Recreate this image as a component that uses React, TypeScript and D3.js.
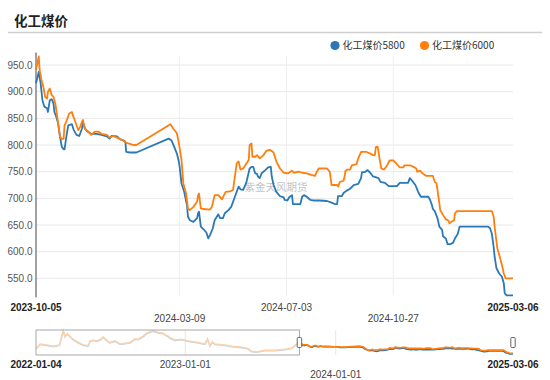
import React from 'react';
import * as d3 from 'd3';

const TITLE = '化工煤价';
const SERIES_NAMES = ['化工煤价5800', '化工煤价6000'];
const COLORS = ['#2a79b6', '#ff7f0e'];
const FADED = ['#bcd6ec', '#fcd2aa'];
const WATERMARK = '紫金天风期货';

const dates5800 = ['2023-10-05','2023-10-08','2023-10-10','2023-10-12','2023-10-14','2023-10-17','2023-10-18','2023-10-20','2023-10-22','2023-10-24','2023-10-25','2023-10-27','2023-10-29','2023-10-31','2023-11-02','2023-11-04','2023-11-05','2023-11-07','2023-11-09','2023-11-13','2023-11-15','2023-11-18','2023-11-21','2023-11-24','2023-11-25','2023-11-27','2023-11-30','2023-12-04','2023-12-10','2023-12-15','2023-12-21','2023-12-24','2023-12-26','2024-01-01','2024-01-04','2024-01-09','2024-01-10','2024-01-11','2024-01-15','2024-01-22','2024-02-26','2024-02-29','2024-03-03','2024-03-06','2024-03-08','2024-03-09','2024-03-11','2024-03-14','2024-03-17','2024-03-18','2024-03-20','2024-03-24','2024-03-28','2024-03-29','2024-03-30','2024-04-01','2024-04-04','2024-04-07','2024-04-09','2024-04-11','2024-04-14','2024-04-16','2024-04-20','2024-04-22','2024-04-25','2024-04-27','2024-05-01','2024-05-04','2024-05-08','2024-05-12','2024-05-14','2024-05-17','2024-05-20','2024-05-21','2024-05-24','2024-05-26','2024-05-28','2024-05-30','2024-06-01','2024-06-02','2024-06-04','2024-06-06','2024-06-10','2024-06-13','2024-06-16','2024-06-17','2024-06-19','2024-06-22','2024-06-26','2024-06-30','2024-07-01','2024-07-04','2024-07-06','2024-07-09','2024-07-10','2024-07-18','2024-07-20','2024-07-22','2024-07-25','2024-07-29','2024-08-01','2024-08-08','2024-08-16','2024-08-21','2024-08-25','2024-08-27','2024-08-28','2024-09-01','2024-09-03','2024-09-06','2024-09-10','2024-09-14','2024-09-19','2024-09-22','2024-09-23','2024-09-26','2024-09-29','2024-10-02','2024-10-05','2024-10-11','2024-10-13','2024-10-18','2024-10-22','2024-10-31','2024-11-03','2024-11-12','2024-11-14','2024-11-16','2024-11-20','2024-11-23','2024-11-26','2024-12-04','2024-12-06','2024-12-08','2024-12-09','2024-12-11','2024-12-14','2024-12-16','2024-12-19','2024-12-20','2024-12-23','2024-12-25','2024-12-28','2024-12-31','2025-01-02','2025-01-05','2025-01-07','2025-02-07','2025-02-09','2025-02-11','2025-02-13','2025-02-14','2025-02-16','2025-02-19','2025-02-22','2025-02-24','2025-02-25','2025-02-27','2025-03-06'];
const values5800 = [916,937,916,884,872,869,862,884,886,878,862,853,841,816,797,792,792,816,837,839,828,819,817,831,844,831,825,821,821,819,816,812,817,816,811,808,806,787,786,786,812,809,797,784,770,759,728,712,687,666,659,656,663,672,675,647,642,636,625,631,644,659,670,663,663,672,678,684,703,722,717,716,728,734,756,759,759,747,746,741,738,747,753,758,759,741,725,712,704,702,697,696,702,706,689,689,703,706,703,697,696,696,695,692,689,689,704,704,710,714,718,725,727,738,749,749,753,748,741,738,731,729,723,723,729,729,738,734,725,712,703,703,697,687,680,676,663,647,641,629,625,614,614,617,625,633,647,647,644,634,609,591,569,559,553,541,522,518,518];

const dates6000 = ['2023-10-05','2023-10-08','2023-10-09','2023-10-11','2023-10-13','2023-10-15','2023-10-17','2023-10-18','2023-10-20','2023-10-22','2023-10-24','2023-10-26','2023-10-27','2023-10-29','2023-10-31','2023-11-02','2023-11-04','2023-11-05','2023-11-07','2023-11-10','2023-11-13','2023-11-14','2023-11-16','2023-11-18','2023-11-20','2023-11-22','2023-11-24','2023-11-25','2023-11-26','2023-11-28','2023-12-01','2023-12-04','2023-12-08','2023-12-12','2023-12-15','2023-12-21','2023-12-24','2023-12-28','2024-01-01','2024-01-04','2024-01-08','2024-01-11','2024-01-15','2024-01-19','2024-01-22','2024-02-28','2024-03-02','2024-03-06','2024-03-08','2024-03-11','2024-03-13','2024-03-16','2024-03-18','2024-03-20','2024-03-24','2024-03-28','2024-03-29','2024-03-30','2024-04-01','2024-04-04','2024-04-11','2024-04-13','2024-04-16','2024-04-20','2024-04-24','2024-04-25','2024-04-28','2024-05-03','2024-05-06','2024-05-08','2024-05-10','2024-05-12','2024-05-14','2024-05-17','2024-05-20','2024-05-23','2024-05-24','2024-05-26','2024-05-27','2024-05-30','2024-06-01','2024-06-04','2024-06-08','2024-06-11','2024-06-15','2024-06-19','2024-06-22','2024-06-26','2024-06-30','2024-07-05','2024-07-09','2024-07-11','2024-07-16','2024-07-20','2024-07-25','2024-07-30','2024-08-03','2024-08-05','2024-08-07','2024-08-16','2024-08-19','2024-08-21','2024-08-27','2024-08-28','2024-08-30','2024-09-03','2024-09-04','2024-09-05','2024-09-07','2024-09-10','2024-09-12','2024-09-17','2024-09-19','2024-09-22','2024-09-28','2024-10-02','2024-10-05','2024-10-07','2024-10-08','2024-10-10','2024-10-12','2024-10-14','2024-10-17','2024-10-20','2024-10-23','2024-10-27','2024-10-31','2024-11-03','2024-11-07','2024-11-08','2024-11-14','2024-11-18','2024-11-21','2024-11-22','2024-11-25','2024-11-27','2024-11-30','2024-12-02','2024-12-09','2024-12-11','2024-12-13','2024-12-15','2024-12-17','2024-12-19','2024-12-20','2024-12-23','2024-12-26','2024-12-27','2024-12-29','2025-01-01','2025-01-02','2025-01-04','2025-02-11','2025-02-13','2025-02-14','2025-02-17','2025-02-19','2025-02-22','2025-02-24','2025-02-26','2025-03-06'];
const values6000 = [941,966,940,922,909,890,887,900,906,894,890,878,866,841,816,811,812,837,844,859,862,856,847,837,828,834,844,847,837,829,825,819,825,825,821,819,814,817,814,811,808,804,802,800,800,839,831,822,805,772,728,709,681,678,684,694,706,709,681,680,679,684,706,706,698,702,712,713,716,741,766,769,754,756,764,772,800,803,778,778,781,775,781,789,791,786,769,756,748,747,752,748,750,748,747,744,742,750,756,756,750,725,725,722,731,733,740,751,754,754,762,764,775,787,787,784,781,781,796,797,775,756,754,761,771,771,764,758,758,762,762,759,756,750,752,748,744,742,742,731,728,703,678,672,669,661,658,653,656,659,672,676,676,666,647,606,594,575,559,550,550];

const histDates = ['2022-01-04','2022-01-14','2022-01-30','2022-02-15','2022-03-02','2022-03-11','2022-03-15','2022-03-21','2022-03-27','2022-04-04','2022-04-17','2022-04-29','2022-05-11','2022-05-15','2022-05-23','2022-05-31','2022-06-10','2022-06-16','2022-06-24','2022-07-02','2022-07-15','2022-07-27','2022-08-12','2022-08-20','2022-09-01','2022-09-09','2022-09-21','2022-09-29','2022-10-15','2022-10-28','2022-11-09','2022-11-13','2022-11-21','2022-11-25','2022-12-07','2022-12-23','2023-01-09','2023-02-02','2023-02-18','2023-02-24','2023-03-02','2023-03-08','2023-03-14','2023-04-07','2023-04-24','2023-05-18','2023-06-03','2023-06-11','2023-06-23','2023-07-13','2023-08-07','2023-08-31','2023-09-16','2023-09-28'];
const hist5800 = [720,905,865,815,865,1440,1215,1320,1220,1095,965,865,840,1030,1065,1030,1095,1190,1065,965,1030,905,940,965,1115,1095,1215,1340,1445,1370,1345,1285,1220,1155,1070,1095,1030,965,905,1115,840,990,905,865,815,775,715,610,585,650,650,690,735,900];
const hist6000 = [737,929,890,837,890,1478,1248,1351,1248,1121,990,890,864,1056,1094,1056,1121,1221,1094,990,1056,929,967,990,1144,1121,1248,1374,1478,1401,1374,1313,1248,1182,1094,1121,1056,990,929,1144,864,1017,929,890,837,798,737,633,606,672,672,710,760,929];

const xTickDates = ['2023-10-05', '2024-03-09', '2024-07-03', '2024-10-27', '2025-03-06'];
const xTickRows = [0, 1, 0, 1, 0];
const yTicks = [550, 600, 650, 700, 750, 800, 850, 900, 950];
const sliderTickDates = ['2022-01-04', '2023-01-01', '2024-01-01', '2025-03-06'];
const sliderTickRows = [0, 0, 1, 0];

type Pt = { date: Date; value: number };

export default function App() {
  const W = 550;
  const H = 380;
  const parse = d3.timeParse('%Y-%m-%d');
  const toPts = (ds: string[], vs: number[]): Pt[] => ds.map((d, i) => ({ date: parse(d) as Date, value: vs[i] }));

  const main = [toPts(dates5800, values5800), toPts(dates6000, values6000)];
  const hist = [toPts(histDates, hist5800), toPts(histDates, hist6000)];

  const left = 36, right = 513, top = 56.5, bottom = 295.4;
  const x = d3.scaleTime()
    .domain([parse(dates6000[0]) as Date, parse(dates6000[dates6000.length - 1]) as Date])
    .range([left, right]);
  const allMain = values5800.concat(values6000);
  const y = d3.scaleLinear()
    .domain([d3.min(allMain) as number, d3.max(allMain) as number])
    .range([bottom, top]);

  const line = d3.line<Pt>().x(d => x(d.date)).y(d => y(d.value));

  // slider
  const sTop = 330, sBottom = 355;
  const xs = d3.scaleTime()
    .domain([parse(histDates[0]) as Date, parse(dates6000[dates6000.length - 1]) as Date])
    .range([left, right]);
  const allVals = allMain.concat(hist5800, hist6000);
  const ys = d3.scaleLinear()
    .domain([d3.min(allVals) as number, d3.max(allVals) as number])
    .range([sBottom - 1, sTop + 0.5]);
  const sLine = d3.line<Pt>().x(d => xs(d.date)).y(d => ys(d.value));
  const selStart = xs(parse(dates6000[0]) as Date);

  const font = '"Liberation Sans", Arial, "Noto Sans CJK SC", sans-serif';
  const cjk = '"Noto Sans CJK SC", "Liberation Sans", sans-serif';

  return (
    <svg width={W} height={H} style={{ position: 'absolute', left: 0, top: 0, background: '#fff' }} fontFamily={font}>
      <rect x={0} y={0} width={W} height={H} fill="#fff" />
      {/* title */}
      <text x={14} y={25.5} fontSize={13.5} fontWeight="bold" fill="#222" fontFamily={cjk}>{TITLE}</text>
      <line x1={8} x2={542} y1={32.5} y2={32.5} stroke="#cfcfcf" strokeWidth={1.5} />

      {/* legend */}
      {SERIES_NAMES.map((n, i) => (
        <g key={n} transform={`translate(${i === 0 ? 335 : 424.5},45.5)`}>
          <circle r={4.6} fill={COLORS[i]} />
          <text x={7.5} y={0} dy="0.35em" fontSize={10} fill="#333" fontFamily={cjk}>{n}</text>
        </g>
      ))}

      {/* grid */}
      {yTicks.map(t => (
        <line key={t} x1={left} x2={right} y1={y(t)} y2={y(t)} stroke="#e8e8e8" strokeWidth={1} />
      ))}
      {xTickDates.slice(1, -1).map(d => {
        const xx = x(parse(d) as Date);
        return <line key={d} x1={xx} x2={xx} y1={top} y2={bottom} stroke="#eeeeee" strokeWidth={1} />;
      })}

      {/* watermark */}
      <text x={276} y={187} textAnchor="middle" dy="0.35em" fontSize={10.5} fill="#c4c4c4" fontFamily={cjk}>{WATERMARK}</text>

      {/* y axis */}
      <line x1={left} x2={left} y1={top - 4} y2={bottom + 2} stroke="#444" strokeWidth={1} />
      {yTicks.map(t => (
        <text key={t} x={32.5} y={y(t)} dy="0.35em" textAnchor="end" fontSize={10} fill="#555">{t.toFixed(1)}</text>
      ))}

      {/* series */}
      {main.map((s, i) => (
        <path key={i} d={line(s) as string} fill="none" stroke={COLORS[i]} strokeWidth={1.8} strokeLinejoin="round" />
      ))}

      {/* x labels */}
      {xTickDates.map((d, i) => {
        const bold = i === 0 || i === xTickDates.length - 1;
        return (
          <text key={d} x={x(parse(d) as Date)} y={xTickRows[i] === 0 ? 311 : 321.5} textAnchor="middle"
            fontSize={10} fontWeight={bold ? 'bold' : 'normal'} fill={bold ? '#222' : '#444'}>{d}</text>
        );
      })}

      {/* slider */}
      {sliderTickDates.slice(1, -1).map(d => {
        const xx = xs(parse(d) as Date);
        return <line key={d} x1={xx} x2={xx} y1={sTop} y2={sBottom} stroke="#e6e6e6" strokeWidth={1} />;
      })}
      {hist.map((s, i) => (
        <path key={'h' + i} d={sLine(s.concat([main[i][0]])) as string} fill="none" stroke={FADED[i]} strokeWidth={1.4} />
      ))}
      {main.map((s, i) => (
        <path key={'m' + i} d={sLine(s) as string} fill="none" stroke={COLORS[i]} strokeWidth={1.6} />
      ))}
      <rect x={left} y={sTop} width={selStart - left} height={sBottom - sTop} fill="none" stroke="#a8a8a8" strokeWidth={1} />
      {[selStart, right].map((hx, i) => (
        <rect key={'hd' + i} x={hx - 2.2} y={337.5} width={4.4} height={10} rx={1} fill="#fff" stroke="#666" strokeWidth={1} />
      ))}
      {sliderTickDates.map((d, i) => {
        const bold = i === 0 || i === sliderTickDates.length - 1;
        return (
          <text key={'s' + d} x={xs(parse(d) as Date)} y={sliderTickRows[i] === 0 ? 367.5 : 378} textAnchor="middle"
            fontSize={10} fontWeight={bold ? 'bold' : 'normal'} fill={bold ? '#222' : '#444'}>{d}</text>
        );
      })}
    </svg>
  );
}
